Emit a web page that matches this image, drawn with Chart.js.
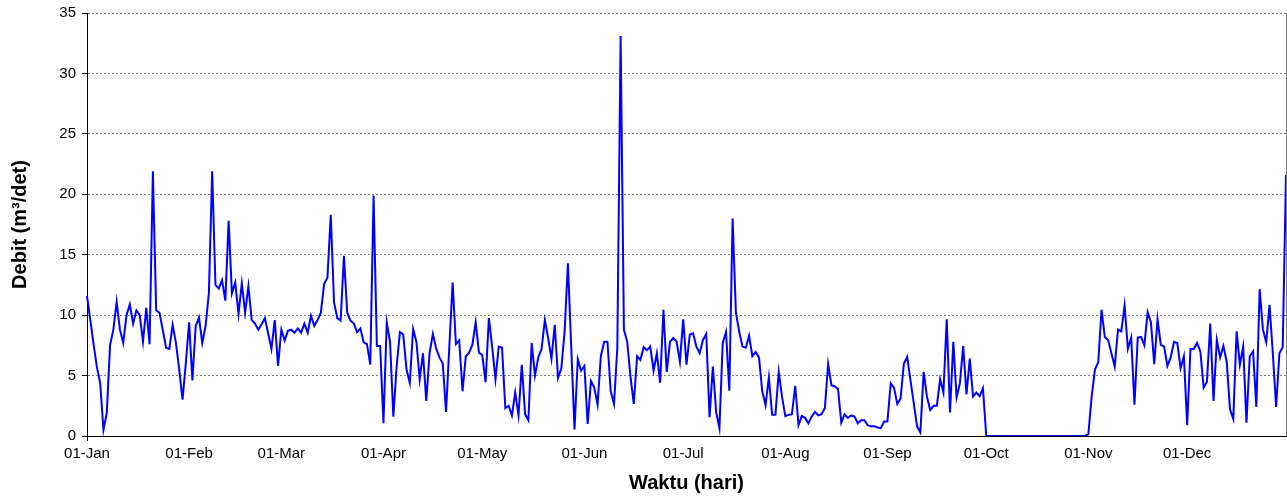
<!DOCTYPE html>
<html>
<head>
<meta charset="utf-8">
<script src="https://cdn.jsdelivr.net/npm/chart.js@4.4.0/dist/chart.umd.min.js"></script>
<style>
html,body{margin:0;padding:0;background:#ffffff;overflow:hidden;}
#wrap{width:1287px;height:497px;position:relative;}
</style>
</head>
<body>
<div id="wrap"><canvas id="c" width="1287" height="497"></canvas></div>
<script>
// ---- data (daily discharge, m3/det) ----
const monthNames = ['Jan','Feb','Mar','Apr','May','Jun','Jul','Aug','Sep','Oct','Nov','Dec'];
const daysInMonth = [31,28,31,30,31,30,31,31,30,31,30,31];

const jan = [11.6,9.6,7.6,5.7,4.4,0.5,1.9,7.5,8.8,11.1,8.8,7.7,10.0,10.9,9.3,10.4,10.0,7.8,10.6,7.6,21.9,10.4,10.2,8.8,7.3,7.2,9.2,7.7,5.5,3.0,6.0];
const feb = [9.4,4.6,9.1,9.8,7.7,9.1,11.8,21.9,12.5,12.2,12.9,11.2,17.8,11.8,12.7,10.1,12.65,10.2,12.4,9.6,9.3,8.8,9.25,9.75,8.5,7.2,9.6,5.8];
const mar = [8.8,7.9,8.7,8.8,8.55,8.9,8.55,9.3,8.55,9.95,9.1,9.6,10.2,12.6,13.1,18.3,11.05,9.75,9.55,14.9,10.2,9.55,9.3,8.6,8.9,7.75,7.6,5.9,19.9,7.45,7.45];
const apr = [1.05,9.4,7.8,1.6,5.75,8.6,8.4,5.5,4.4,8.85,7.8,4.7,6.85,2.9,6.85,8.45,7.25,6.5,6.0,2.0,7.4,12.7,7.6,7.9,3.7,6.6,6.9,7.55,9.4,6.9];
const may = [6.7,4.45,9.75,7.4,4.7,7.4,7.3,2.3,2.5,1.7,3.6,1.7,5.9,1.8,1.3,7.7,5.0,6.5,7.2,9.6,8.1,6.4,9.2,4.8,5.6,8.65,14.3,7.4,0.55,6.35,5.4];
const jun = [5.8,1.0,4.55,4.0,2.6,6.6,7.8,7.8,3.7,2.65,7.3,33.1,8.8,7.8,4.9,2.65,6.6,6.3,7.35,7.1,7.4,5.4,6.85,4.4,10.45,5.3,7.8,8.1,7.8,6.15];
const jul = [9.65,5.9,8.4,8.5,7.4,6.85,7.95,8.45,1.55,5.75,2.0,0.65,7.7,8.6,3.75,18.0,10.2,8.65,7.4,7.3,8.3,6.6,6.95,6.5,3.7,2.55,4.85,1.75,1.75,5.3,3.25];
const aug = [1.65,1.75,1.8,4.15,0.9,1.65,1.5,1.05,1.6,2.0,1.7,1.8,2.3,5.95,4.2,4.1,3.9,1.1,1.8,1.5,1.7,1.6,1.05,1.3,1.3,0.9,0.8,0.8,0.7,0.65,1.2];
const sep = [1.2,4.35,4.0,2.65,3.1,6.0,6.55,4.6,2.7,0.8,0.3,5.3,3.25,2.15,2.5,2.5,4.7,3.6,9.65,1.95,7.8,3.2,4.35,7.45,3.45,6.4,3.25,3.6,3.3,3.95];
const oct = [0,0,0,0,0,0,0,0,0,0,0,0,0,0,0,0,0,0,0,0,0,0,0,0,0,0,0,0,0,0,0];
const nov = [0.15,3.25,5.5,6.1,10.45,8.2,7.95,6.85,5.75,8.8,8.65,10.8,7.2,8.15,2.6,8.15,8.2,7.5,10.25,9.4,5.95,9.65,7.55,7.4,5.8,6.5,7.8,7.7,5.6,6.6];
const dec = [0.9,7.2,7.2,7.7,7.0,4.0,4.5,9.3,2.9,7.95,6.5,7.45,6.15,2.2,1.4,8.65,5.9,7.4,1.1,6.6,7.0,2.4,12.15,8.8,7.75,10.85,6.85,2.4,6.85,7.35,21.6];

const yTicks = [0,5,10,15,20,25,30,35];
const xTitle = 'Waktu (hari)';
const yTitle = 'Debit (m\u00B3/det)';

// ---- build ----
const values = [].concat(jan,feb,mar,apr,may,jun,jul,aug,sep,oct,nov,dec);
const categories = [];
monthNames.forEach((m,i)=>{
  for(let d=1; d<=daysInMonth[i]; d++){
    categories.push(String(d).padStart(2,'0') + '-' + m);
  }
});
const isMonthStart = i => categories[i] && categories[i].startsWith('01-');

const FONT = "'Liberation Sans', Arial, sans-serif";

const rightBorder = {
  id:'rightBorder',
  afterDraw(chart){
    const {ctx, chartArea:a} = chart;
    ctx.save();
    ctx.strokeStyle = '#808080';
    ctx.lineWidth = 1;
    ctx.beginPath();
    ctx.moveTo(Math.round(a.right)+0.5, a.top);
    ctx.lineTo(Math.round(a.right)+0.5, a.bottom);
    ctx.stroke();
    ctx.restore();
  }
};

new Chart(document.getElementById('c'), {
  type:'line',
  data:{
    labels: categories,
    datasets:[{
      data: values,
      borderColor:'#0000FF',
      borderWidth:2,
      pointRadius:0,
      pointHoverRadius:0,
      tension:0,
      fill:false
    }]
  },
  options:{
    responsive:false,
    animation:false,
    devicePixelRatio:1,
    events:[],
    layout:{padding:{left:0,right:1,top:13,bottom:0}},
    plugins:{legend:{display:false}, tooltip:{enabled:false}},
    scales:{
      x:{
        type:'category',
        offset:false,
        ticks:{
          autoSkip:false,
          maxRotation:0,
          minRotation:0,
          padding:4,
          color:'#000',
          font:{family:FONT,size:15},
          callback:(v,i)=> isMonthStart(i) ? categories[i] : null
        },
        grid:{
          drawOnChartArea:false,
          drawTicks:true,
          tickLength:5,
          color:(c)=> isMonthStart(c.index) ? '#000' : 'rgba(0,0,0,0)',
          tickColor:(c)=> isMonthStart(c.index) ? '#000' : 'rgba(0,0,0,0)'
        },
        border:{display:true,color:'#000',width:1},
        title:{display:true,text:xTitle,color:'#000',font:{family:FONT,size:20,weight:'bold'},padding:{top:0,bottom:2}},
        afterFit:(s)=>{ s.height = 497-436; s.paddingLeft = 0; s.paddingRight = 0; }
      },
      y:{
        min:0,max:35,
        afterBuildTicks:(s)=>{ s.ticks = yTicks.map(v=>({value:v})); },
        ticks:{color:'#000',font:{family:FONT,size:15},padding:6},
        grid:{
          color:(c)=> c.tick && c.tick.value===0 ? 'rgba(0,0,0,0)' : '#808080',
          tickColor:'#000',
          tickLength:5,
          lineWidth:1
        },
        border:{display:true,color:'#000',width:1,dash:[2,2]},
        title:{display:true,text:yTitle,color:'#000',font:{family:FONT,size:20,weight:'bold'},padding:{top:8,bottom:0}},
        afterFit:(s)=>{ s.width = 87; s.paddingTop = 0; s.paddingBottom = 0; }
      }
    }
  },
  plugins:[rightBorder]
});
</script>
</body>
</html>
